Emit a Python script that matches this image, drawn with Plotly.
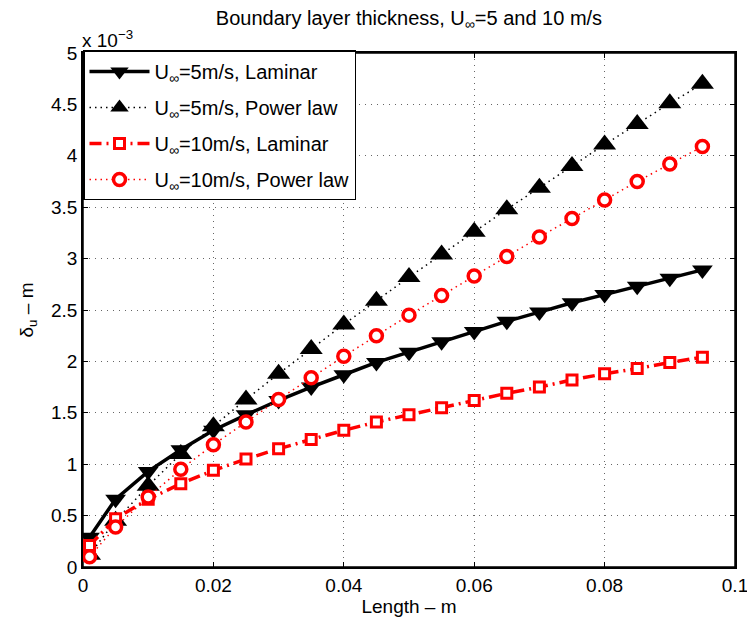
import plotly.graph_objects as go

length_m = [0.001, 0.005, 0.01, 0.015, 0.02, 0.025, 0.03, 0.035, 0.04, 0.045,
            0.05, 0.055, 0.06, 0.065, 0.07, 0.075, 0.08, 0.085, 0.09, 0.095]

lam5 = [0.29, 0.66, 0.93, 1.14, 1.33, 1.48, 1.62, 1.75, 1.87, 1.99,
        2.09, 2.19, 2.29, 2.39, 2.48, 2.57, 2.65, 2.73, 2.81, 2.89]
pow5 = [0.12, 0.45, 0.79, 1.10, 1.37, 1.63, 1.88, 2.12, 2.36, 2.59,
        2.82, 3.04, 3.26, 3.48, 3.69, 3.90, 4.11, 4.31, 4.51, 4.70]
lam10 = [0.21, 0.47, 0.66, 0.81, 0.94, 1.05, 1.15, 1.24, 1.33, 1.41,
         1.48, 1.55, 1.62, 1.69, 1.75, 1.82, 1.88, 1.93, 1.99, 2.04]
pow10 = [0.10, 0.39, 0.68, 0.95, 1.19, 1.41, 1.63, 1.84, 2.05, 2.25,
         2.45, 2.64, 2.83, 3.02, 3.21, 3.39, 3.57, 3.75, 3.92, 4.09]

scale = 1e-3
x_ticks = [0, 0.02, 0.04, 0.06, 0.08, 0.1]
x_tick_labels = ["0", "0.02", "0.04", "0.06", "0.08", "0.1"]
y_ticks = [0, 0.5, 1, 1.5, 2, 2.5, 3, 3.5, 4, 4.5, 5]
y_tick_labels = ["0", "0.5", "1", "1.5", "2", "2.5", "3", "3.5", "4", "4.5", "5"]

FONT = "Liberation Sans, Arial, sans-serif"
FS = 19

fig = go.Figure()
fig.add_trace(go.Scatter(
    x=length_m, y=[v * scale for v in lam5], mode="lines+markers",
    name="U<sub>∞</sub>=5m/s, Laminar", legendgroup="a",
    line=dict(color="black", width=3.5, dash="solid"),
    marker=dict(symbol="triangle-down", size=18, color="black")))
fig.add_trace(go.Scatter(
    x=length_m, y=[v * scale for v in pow5], mode="lines+markers",
    name="U<sub>∞</sub>=5m/s, Power law", legendgroup="b",
    line=dict(color="black", width=1.5, dash="1.5px,4px"),
    marker=dict(symbol="triangle-up", size=20, color="black")))
fig.add_trace(go.Scatter(
    x=length_m, y=[v * scale for v in lam10], mode="lines+markers",
    name="U<sub>∞</sub>=10m/s, Laminar", legendgroup="c",
    line=dict(color="red", width=3.5, dash="12px,5px,2px,5px"),
    marker=dict(symbol="square", size=10, color="white",
                line=dict(color="red", width=3))))
fig.add_trace(go.Scatter(
    x=length_m, y=[v * scale for v in pow10], mode="lines+markers",
    name="U<sub>∞</sub>=10m/s, Power law", legendgroup="d",
    line=dict(color="red", width=1.5, dash="1.5px,4px"),
    marker=dict(symbol="circle", size=12, color="white",
                line=dict(color="red", width=3.5))))

axis_common = dict(
    showline=True, linecolor="black", linewidth=1.5, mirror="ticks",
    ticks="inside", ticklen=5, tickcolor="black", automargin=False,
    ticklabeloverflow="allow",
    showgrid=True, gridcolor="#666666", griddash="1px,5px", gridwidth=1,
    zeroline=False, tickfont=dict(family=FONT, size=FS, color="black"),
)

fig.update_xaxes(range=[0, 0.1], tickvals=x_ticks, ticktext=x_tick_labels,
                 title=dict(text="Length – m", font=dict(family=FONT, size=FS, color="black"),
                            standoff=9),
                 **axis_common)
fig.update_yaxes(range=[0, 5 * scale], tickvals=[v * scale for v in y_ticks],
                 ticktext=y_tick_labels,
                 title=dict(text="δ<sub>u</sub> – m", font=dict(family=FONT, size=FS, color="black"),
                            standoff=12),
                 **axis_common)

fig.add_annotation(text="x 10<sup>−3</sup>", xref="paper", yref="paper",
                   x=0, y=1, xanchor="left", yanchor="bottom", yshift=0, xshift=-3,
                   showarrow=False, font=dict(family=FONT, size=FS, color="black"))

# axes box (MATLAB "box on")
fig.add_shape(type="rect", xref="paper", yref="paper", x0=0, y0=0, x1=1, y1=1,
              line=dict(color="black", width=1.5), fillcolor="rgba(0,0,0,0)",
              layer="below")

fig.update_layout(
    width=747, height=617,
    margin=dict(l=83, r=12, t=53, b=50),
    paper_bgcolor="white", plot_bgcolor="white",
    title=dict(text="Boundary layer thickness, U<sub>∞</sub>=5 and 10 m/s",
               x=0.5475, xanchor="center", y=0.971, yanchor="middle",
               font=dict(family=FONT, size=20, color="black")),
    legend=dict(x=0, y=1.005, xanchor="left", yanchor="top",
                bgcolor="white", bordercolor="black", borderwidth=1.5,
                font=dict(family=FONT, size=20, color="black"),
                itemwidth=60, tracegroupgap=7),
    showlegend=True,
)

fig.write_html(
    "out.html",
    config={"displayModeBar": False},
    post_script="document.body.style.margin='0';document.body.style.overflow='hidden';",
)
